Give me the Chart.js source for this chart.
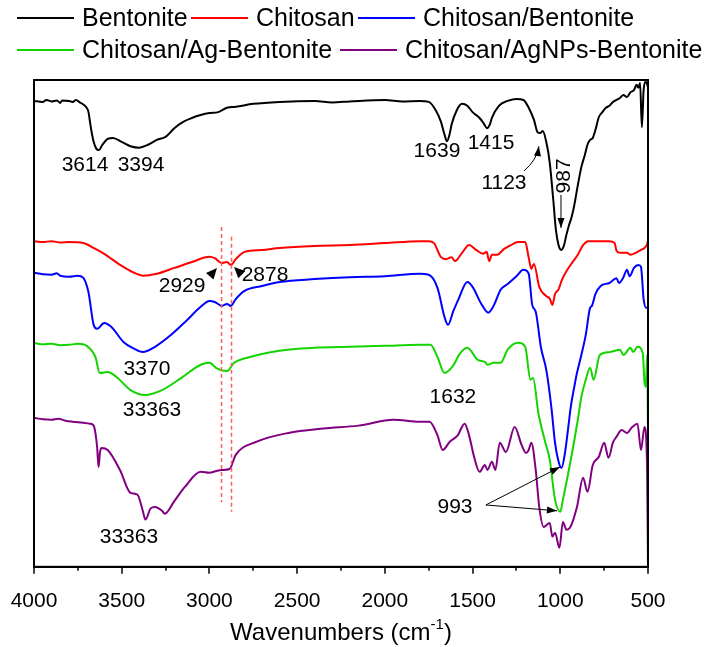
<!DOCTYPE html>
<html>
<head>
<meta charset="utf-8">
<script src="https://cdn.jsdelivr.net/npm/chart.js@4.4.1/dist/chart.umd.min.js"></script>
<style>
  html, body { margin: 0; padding: 0; background: #fff; }
  #wrap { width: 712px; height: 647px; }
</style>
</head>
<body>
<div id="wrap"><canvas id="ftir" width="712" height="647"></canvas></div>
<script>
// FTIR spectra — [wavenumber (cm-1), transmittance (a.u., offset)]
const bentonite = [
  [4000,95.7],[3950,95.5],[3930,95.9],[3900,95.6],[3870,95.8],[3850,95.3],[3840,95.8],[3800,95.7],
  [3780,95.5],[3760,95.9],[3740,95.4],[3720,95.0],[3700,94.3],[3690,93.5],[3680,91.2],[3670,89.0],
  [3660,87.3],[3645,85.9],[3630,85.6],[3610,86.7],[3580,87.9],[3550,88.1],[3500,87.3],[3450,86.4],
  [3400,86.1],[3350,86.7],[3300,87.7],[3250,88.3],[3200,90.1],[3150,91.4],[3100,92.2],[3050,92.8],
  [3000,93.2],[2950,93.4],[2900,94.3],[2850,94.5],[2750,95.1],[2600,95.5],[2400,95.7],[2300,95.4],
  [2200,95.6],[2000,95.9],[1900,95.6],[1800,95.7],[1750,95.5],[1710,93.8],[1680,91.4],[1660,88.8],
  [1646,87.4],[1630,89.0],[1620,90.8],[1590,93.8],[1560,95.1],[1530,94.7],[1500,93.4],[1460,92.2],
  [1435,91.0],[1418,90.1],[1400,91.0],[1390,92.2],[1350,94.7],[1300,95.7],[1250,96.1],[1210,95.9],
  [1180,94.3],[1150,91.8],[1130,89.3],[1115,89.1],[1100,89.5],[1080,87.3],[1060,83.0],[1040,75.4],
  [1025,69.2],[1010,66.1],[995,65.1],[980,65.9],[965,68.2],[950,70.2],[935,71.9],[920,74.3],
  [900,78.4],[880,82.1],[860,84.6],[845,86.7],[830,87.7],[815,88.1],[800,89.7],[780,92.4],
  [760,93.4],[740,94.3],[720,94.7],[700,95.5],[680,95.9],[660,96.3],[640,96.9],[620,96.5],
  [600,97.5],[580,97.9],[565,99.0],[555,98.4],[545,99.4],[535,90.3],[525,97.9],[515,99.6],
  [505,99.2],[500,98.4]
];

const chitosan = [
  [4000,66.9],[3950,66.7],[3900,66.9],[3850,66.6],[3800,66.7],[3720,66.5],[3650,65.3],[3600,64.3],
  [3500,61.8],[3430,60.4],[3380,59.8],[3300,60.2],[3200,61.4],[3100,62.6],[3000,63.7],[2970,63.4],
  [2929,62.4],[2900,62.6],[2878,62.0],[2850,63.2],[2800,64.7],[2700,65.1],[2600,65.5],[2400,65.9],
  [2200,66.1],[2000,66.5],[1800,66.9],[1750,66.9],[1720,66.5],[1680,63.6],[1650,63.2],[1620,63.6],
  [1600,62.8],[1560,64.5],[1520,66.1],[1480,65.1],[1440,64.3],[1420,64.7],[1405,62.8],[1390,64.1],
  [1360,64.1],[1320,65.3],[1270,66.3],[1240,66.7],[1200,66.7],[1180,63.5],[1165,61.2],[1150,62.2],
  [1120,57.5],[1080,55.6],[1060,55.1],[1045,53.8],[1030,56.0],[1010,57.0],[990,59.0],[960,61.0],
  [930,62.6],[900,64.1],[870,66.1],[840,66.9],[800,66.9],[720,66.9],[690,66.5],[680,65.0],
  [660,64.5],[620,64.5],[600,64.1],[570,64.5],[540,65.1],[520,65.5],[505,66.3],[500,67.0]
];

const chitosanBentonite = [
  [4000,60.4],[3950,60.1],[3900,60.0],[3870,60.3],[3850,59.8],[3800,59.6],[3750,59.8],[3720,59.4],
  [3690,56.5],[3660,49.7],[3640,48.9],[3600,50.1],[3560,49.3],[3490,46.2],[3430,44.8],[3380,44.1],
  [3310,45.2],[3220,47.6],[3130,50.6],[3050,53.4],[3000,54.6],[2970,54.4],[2929,53.6],[2900,54.0],
  [2878,53.6],[2850,55.0],[2800,56.7],[2700,57.7],[2600,58.5],[2400,59.1],[2200,59.5],[2000,59.7],
  [1800,60.2],[1750,60.0],[1700,57.3],[1660,51.3],[1640,49.7],[1610,52.5],[1580,55.0],[1530,58.5],
  [1500,57.5],[1450,54.0],[1410,52.2],[1380,53.6],[1340,56.9],[1300,58.1],[1250,59.7],[1210,61.0],
  [1180,60.2],[1160,53.8],[1140,52.4],[1110,45.0],[1080,40.5],[1050,32.5],[1030,25.5],[1005,21.0],
  [993,20.3],[975,23.0],[955,28.5],[940,32.9],[920,37.0],[905,39.8],[880,43.5],[855,47.6],
  [830,53.2],[820,53.6],[800,56.0],[770,57.7],[720,58.3],[680,59.3],[665,58.3],[640,59.5],
  [620,61.0],[605,59.7],[580,61.4],[555,62.0],[540,61.6],[525,55.0],[510,53.2],[500,53.2]
];

const chitosanAgBentonite = [
  [4000,46.0],[3950,45.7],[3900,45.8],[3850,45.5],[3800,45.6],[3750,45.8],[3700,45.4],[3650,43.1],
  [3625,39.8],[3580,40.0],[3530,39.0],[3450,36.3],[3367,35.3],[3270,36.3],[3160,38.8],[3050,41.5],
  [3000,41.9],[2955,40.7],[2900,40.2],[2860,41.9],[2790,42.9],[2600,44.4],[2400,45.0],[2200,45.2],
  [2000,45.4],[1800,45.6],[1740,45.6],[1700,43.1],[1660,39.8],[1615,41.1],[1570,43.9],[1530,45.0],
  [1470,42.5],[1430,42.1],[1415,41.5],[1380,41.9],[1340,41.9],[1300,44.6],[1240,46.0],[1200,45.2],
  [1170,38.4],[1155,38.8],[1125,31.6],[1085,25.5],[1060,22.0],[1030,13.8],[1000,11.3],[985,13.8],
  [940,22.0],[900,30.2],[880,34.9],[855,38.4],[830,40.9],[810,38.4],[775,43.5],[720,44.1],
  [660,44.6],[640,43.5],[600,45.0],[585,44.1],[560,45.2],[530,43.9],[520,38.0],[512,37.0],
  [505,43.5],[500,27.1]
];

const chitosanAgNPsBentonite = [
  [4000,30.6],[3950,30.3],[3900,30.2],[3860,30.4],[3820,30.0],[3780,29.8],[3720,29.6],[3680,29.4],
  [3660,29.0],[3650,27.5],[3640,24.5],[3632,20.5],[3624,23.5],[3615,24.4],[3580,24.0],[3510,19.9],
  [3450,15.2],[3410,14.8],[3380,11.5],[3365,9.7],[3335,12.0],[3310,12.3],[3270,11.5],[3255,10.9],
  [3200,13.5],[3140,16.4],[3050,19.5],[3000,19.3],[2960,19.7],[2929,19.9],[2885,20.1],[2850,23.0],
  [2730,25.7],[2550,27.5],[2350,28.4],[2150,29.0],[1950,30.2],[1800,29.8],[1745,29.8],[1700,27.0],
  [1670,24.0],[1630,25.7],[1585,27.0],[1545,29.4],[1520,27.0],[1490,22.4],[1460,19.5],[1430,20.9],
  [1415,19.9],[1390,21.6],[1370,19.9],[1345,25.5],[1310,23.6],[1260,28.7],[1220,25.0],[1195,23.4],
  [1180,24.0],[1165,25.5],[1140,19.9],[1120,12.3],[1095,8.2],[1060,9.0],[1045,6.2],[1030,7.0],
  [1005,3.9],[985,9.2],[965,7.6],[945,8.0],[905,12.3],[870,18.3],[845,15.4],[815,20.9],
  [780,22.6],[750,25.5],[725,22.4],[700,25.5],[680,26.7],[650,28.1],[620,27.5],[590,28.7],
  [560,29.4],[540,24.0],[520,28.7],[505,20.0],[500,0.0]
];

const seriesNames  = ["Bentonite", "Chitosan", "Chitosan/Bentonite", "Chitosan/Ag-Bentonite", "Chitosan/AgNPs-Bentonite"];
const seriesData   = [bentonite, chitosan, chitosanBentonite, chitosanAgBentonite, chitosanAgNPsBentonite];
const seriesColors = ["#000000", "#ff0000", "#0000ff", "#14d400", "#800080"];

const xTicks = [4000, 3500, 3000, 2500, 2000, 1500, 1000, 500];
const xMinorTicks = [3750, 3250, 2750, 2250, 1750, 1250, 750];

// dashed guides at 2929 / 2878: [wavenumber, top, bottom]
const guideLines = [[2935, 69.8, 13.3], [2878, 67.8, 11.3]];

// peak labels: [wavenumber, value, text, rotated]
const peakLabels = [
  [3709, 82.5, "3614", false], [3390, 82.5, "3394", false],
  [3156, 57.7, "2929", false], [2683, 60.0, "2878", false],
  [3356, 40.5, "3370", false], [3327, 32.2, "33363", false], [3459, 6.0, "33363", false],
  [1703, 85.4, "1639", false], [1395, 87.1, "1415", false], [1321, 78.9, "1123", false],
  [979, 80.3, "987", true], [1612, 34.9, "1632", false], [1600, 12.3, "993", false]
];

// arrows: [fromWn, fromV, toWn, toV, ctrlWn, ctrlV] (ctrl optional = curved)
const arrows = [
  [1207, 81.3, 1122, 86.4, 1133, 83.6],
  [996, 76.4, 996, 69.6],
  [1424, 12.7, 1002, 20.5],
  [1424, 12.7, 1019, 11.5]
];
// bare arrowheads: [baseWn, baseV, tipWn, tipV]
const heads = [[3003, 59.5, 2957, 61.4], [2809, 59.8, 2860, 61.6]];

const FONT = "'Liberation Sans', Arial, sans-serif";

function arrowHead(ctx, x0, y0, x1, y1, len, half) {
  const ang = Math.atan2(y1 - y0, x1 - x0);
  ctx.beginPath();
  ctx.moveTo(x1, y1);
  ctx.lineTo(x1 - len * Math.cos(ang) + half * Math.sin(ang), y1 - len * Math.sin(ang) - half * Math.cos(ang));
  ctx.lineTo(x1 - len * Math.cos(ang) - half * Math.sin(ang), y1 - len * Math.sin(ang) + half * Math.cos(ang));
  ctx.closePath();
  ctx.fill();
}

const decor = {
  id: "decor",
  afterDatasetsDraw(chart) {
    const { ctx, scales: { x, y } } = chart;
    ctx.save();

    // dashed guides
    ctx.strokeStyle = "#ff5c5c";
    ctx.lineWidth = 1.5;
    ctx.setLineDash([4, 3]);
    guideLines.forEach(([wn, top, bot]) => {
      const px = Math.round(x.getPixelForValue(wn)) + 0.5;
      ctx.beginPath();
      ctx.moveTo(px, y.getPixelForValue(top));
      ctx.lineTo(px, y.getPixelForValue(bot));
      ctx.stroke();
    });
    ctx.setLineDash([]);

    // labels
    ctx.fillStyle = "#000";
    ctx.font = "21px " + FONT;
    ctx.textAlign = "center";
    ctx.textBaseline = "middle";
    peakLabels.forEach(([wn, v, txt, rot]) => {
      const px = x.getPixelForValue(wn), py = y.getPixelForValue(v);
      if (rot) {
        ctx.save();
        ctx.translate(px, py);
        ctx.rotate(-Math.PI / 2);
        ctx.fillText(txt, 0, 0);
        ctx.restore();
      } else {
        ctx.fillText(txt, px, py);
      }
    });

    // arrows
    ctx.strokeStyle = "#000";
    ctx.lineWidth = 1;
    arrows.forEach(a => {
      const x0 = x.getPixelForValue(a[0]), y0 = y.getPixelForValue(a[1]);
      const x1 = x.getPixelForValue(a[2]), y1 = y.getPixelForValue(a[3]);
      ctx.beginPath();
      ctx.moveTo(x0, y0);
      if (a.length > 4) {
        const cx = x.getPixelForValue(a[4]), cy = y.getPixelForValue(a[5]);
        ctx.quadraticCurveTo(cx, cy, x1, y1);
        ctx.stroke();
        arrowHead(ctx, cx, cy, x1, y1, 10, 3.5);
      } else {
        ctx.lineTo(x1, y1);
        ctx.stroke();
        arrowHead(ctx, x0, y0, x1, y1, 10, 3.5);
      }
    });
    heads.forEach(([bw, bv, tw, tv]) => {
      arrowHead(ctx, x.getPixelForValue(bw), y.getPixelForValue(bv),
                x.getPixelForValue(tw), y.getPixelForValue(tv), 11, 5);
    });
    ctx.restore();
  },
  afterDraw(chart) {
    const { ctx, chartArea: a, scales: { x } } = chart;
    ctx.save();

    // frame
    ctx.strokeStyle = "#000";
    ctx.lineWidth = 2;
    ctx.strokeRect(a.left, a.top, a.right - a.left, a.bottom - a.top);

    // major + minor ticks (outward)
    ctx.lineWidth = 1.5;
    xTicks.concat(xMinorTicks).forEach(wn => {
      const px = Math.round(x.getPixelForValue(wn));
      const len = xTicks.includes(wn) ? 7 : 4;
      ctx.beginPath();
      ctx.moveTo(px, a.bottom);
      ctx.lineTo(px, a.bottom + len);
      ctx.stroke();
    });

    // axis title with superscript
    const mid = (a.left + a.right) / 2;
    const ty = 632;
    ctx.fillStyle = "#000";
    ctx.textBaseline = "alphabetic";
    ctx.textAlign = "left";
    const main = "Wavenumbers (cm", sup = "-1", close = ")";
    ctx.font = "24px " + FONT;
    const wMain = ctx.measureText(main).width, wClose = ctx.measureText(close).width;
    ctx.font = "15px " + FONT;
    const wSup = ctx.measureText(sup).width;
    let tx = mid - (wMain + wSup + wClose) / 2;
    ctx.font = "24px " + FONT;
    ctx.fillText(main, tx, ty + 8);
    ctx.font = "15px " + FONT;
    ctx.fillText(sup, tx + wMain, ty - 3);
    ctx.font = "24px " + FONT;
    ctx.fillText(close, tx + wMain + wSup, ty + 8);

    // legend
    const legendPos = [[17, 18], [191, 18], [358, 18], [17, 50], [340, 50]];
    ctx.font = "25px " + FONT;
    ctx.textBaseline = "middle";
    seriesNames.forEach((name, i) => {
      const [lx, ly] = legendPos[i];
      ctx.strokeStyle = seriesColors[i];
      ctx.lineWidth = 2;
      ctx.beginPath();
      ctx.moveTo(lx, ly);
      ctx.lineTo(lx + 57, ly);
      ctx.stroke();
      ctx.fillStyle = "#000";
      ctx.fillText(name, lx + 65, ly + 1);
    });
    ctx.restore();
  }
};

new Chart(document.getElementById("ftir"), {
  type: "line",
  data: {
    datasets: seriesData.map((d, i) => ({
      label: seriesNames[i],
      data: d.map(([wn, v]) => ({ x: wn, y: v })),
      borderColor: seriesColors[i],
      borderWidth: 2,
      pointRadius: 0,
      cubicInterpolationMode: "monotone",
      fill: false
    }))
  },
  options: {
    responsive: false,
    animation: false,
    events: [],
    layout: { padding: { left: 34, right: 64, top: 80, bottom: 23 } },
    plugins: { legend: { display: false }, tooltip: { enabled: false } },
    scales: {
      x: {
        type: "linear",
        reverse: true,
        min: 500,
        max: 4000,
        afterBuildTicks: axis => { axis.ticks = xTicks.map(v => ({ value: v })); },
        ticks: {
          color: "#000",
          font: { size: 21, family: FONT },
          padding: 10,
          maxRotation: 0,
          autoSkip: false,
          callback: v => String(v)
        },
        grid: { drawOnChartArea: false, drawTicks: true, tickLength: 12, tickColor: "rgba(0,0,0,0)" },
        border: { display: true, color: "#000", width: 2 }
      },
      y: { display: false, min: 0, max: 100 }
    }
  },
  plugins: [decor]
});
</script>
</body>
</html>
